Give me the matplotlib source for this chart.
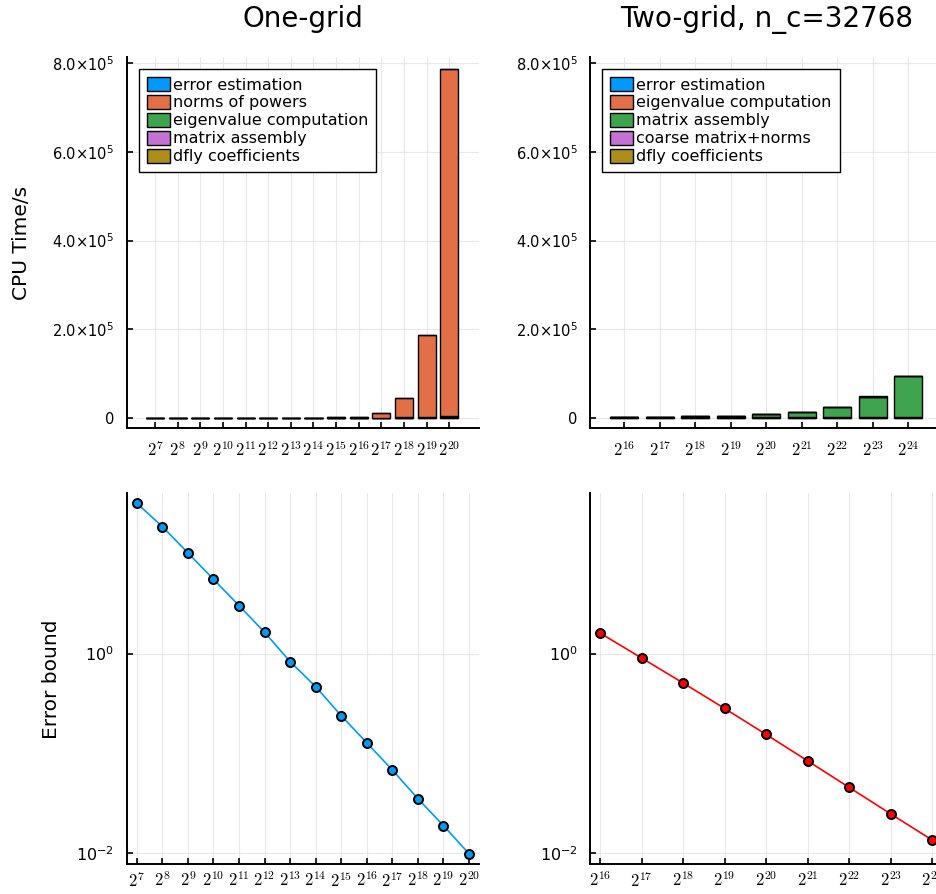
import numpy as np
import matplotlib.pyplot as plt

# problem sizes
n_one = [2**k for k in range(7, 21)]
n_two = [2**k for k in range(16, 25)]
lbl_one = [r'$2^{%d}$' % k for k in range(7, 21)]
lbl_two = [r'$2^{%d}$' % k for k in range(16, 25)]

# CPU time components, one-grid (seconds)
err_one = [0.002, 0.004, 0.008, 0.016, 0.03, 0.07, 0.14, 0.3, 0.6, 1.3, 2.8, 6, 13, 28]
norms_one = [0.01, 0.04, 0.15, 0.6, 2.4, 9.5, 38, 150, 600, 2400, 9800, 45000, 186000, 783000]
eig_one = [0.05, 0.1, 0.2, 0.45, 1, 2.2, 5, 11, 25, 60, 140, 330, 780, 2400]
asm_one = [0.02, 0.04, 0.08, 0.17, 0.35, 0.8, 1.7, 3.8, 9, 25, 70, 190, 520, 1900]
dfly_one = [0.5, 0.6, 0.7, 0.9, 1.2, 1.8, 3, 5, 9, 17, 33, 65, 130, 260]

# CPU time components, two-grid (seconds)
err_two = [5, 10, 20, 40, 80, 160, 320, 640, 1300]
eig_two = [40, 45, 50, 60, 70, 85, 100, 120, 150]
asm_two = [360, 720, 1450, 2900, 5800, 11500, 23000, 46000, 92000]
coarse_two = [1500, 1500, 1500, 1500, 1500, 1500, 1500, 1500, 1500]
dfly_two = [30, 35, 40, 50, 60, 75, 90, 110, 140]

# error bounds
bound_one = [32.5, 18.9, 10.3, 5.59, 3.04, 1.64, 0.831, 0.466, 0.238, 0.127,
             0.0678, 0.0349, 0.0187, 0.00977]
bound_two = [1.61, 0.904, 0.507, 0.281, 0.154, 0.0836, 0.0452, 0.0245, 0.01337]

pal = ['#009AFA', '#E36F47', '#3EA44E', '#C371D2', '#AC8E18']

W, H = 937, 894
fig = plt.figure(figsize=(W / 100, H / 100), dpi=100)


def add_ax(x0, x1, y0, y1):
    return fig.add_axes([x0 / W, 1 - y1 / H, (x1 - x0) / W, (y1 - y0) / H])


def style(ax, xpad=9):
    for s in ['top', 'right']:
        ax.spines[s].set_visible(False)
    for s in ['left', 'bottom']:
        ax.spines[s].set_linewidth(1.4)
    ax.tick_params(direction='in', length=4.5, width=1.2)
    ax.tick_params(axis='y', pad=9)
    ax.tick_params(axis='x', pad=xpad)
    ax.grid(True, color='#e8e8e8', lw=0.8)
    ax.set_axisbelow(True)


def stacked(ax, parts, labels, colors):
    x = np.arange(len(parts[0]))
    bottom = np.zeros(len(x))
    handles = {}
    # last series at the bottom of the stack
    for vals, lab, col in list(zip(parts, labels, colors))[::-1]:
        h = ax.bar(x, vals, 0.8, bottom=bottom, color=col, edgecolor='black',
                   linewidth=1.0, label=lab)
        handles[lab] = h
        bottom = bottom + np.array(vals)
    leg = ax.legend([handles[l] for l in labels], labels, loc='upper left',
                    fontsize=11.5, labelspacing=0.16, handlelength=1.45,
                    handleheight=0.95, handletextpad=0.2, borderpad=0.5,
                    borderaxespad=0.75, fancybox=False, framealpha=1)
    leg.get_frame().set_edgecolor('black')
    leg.get_frame().set_linewidth(1.0)
    return x


ytk = [0, 2e5, 4e5, 6e5, 8e5]
ytl = ['0', r'$2.0{\times}10^{5}$', r'$4.0{\times}10^{5}$', r'$6.0{\times}10^{5}$', r'$8.0{\times}10^{5}$']

# top left
ax1 = add_ax(126.7, 479, 57.2, 428.3)
style(ax1)
x = stacked(ax1, [err_one, norms_one, eig_one, asm_one, dfly_one],
            ['error estimation', 'norms of powers', 'eigenvalue computation',
             'matrix assembly', 'dfly coefficients'], pal)
ax1.set_xlim(-1.25, 13 + 1.31)
ax1.set_ylim(-0.239e5, 8.14e5)
ax1.set_xticks(x, lbl_one, math_fontfamily='cm', fontsize=12)
ax1.set_yticks(ytk, ytl, math_fontfamily='dejavusans', fontsize=10.5)
ax1.set_title('One-grid', fontsize=20, pad=22)

# top right
ax2 = add_ax(590, 942.3, 57.2, 428.3)
style(ax2)
x = stacked(ax2, [err_two, eig_two, asm_two, coarse_two, dfly_two],
            ['error estimation', 'eigenvalue computation', 'matrix assembly',
             'coarse matrix+norms', 'dfly coefficients'], pal)
ax2.set_xlim(-0.966, 8.958)
ax2.set_ylim(-0.239e5, 8.14e5)
ax2.set_xticks(x, lbl_two, math_fontfamily='cm', fontsize=12)
ax2.set_yticks(ytk, ytl, math_fontfamily='dejavusans', fontsize=10.5)
ax2.set_title('Two-grid, n_c=32768', fontsize=20, pad=22)

# bottom panels
ylo, yhi = 10**-2.1165, 10**1.61
for pos, n, b, col, ks, lbl in [((126.7, 479), n_one, bound_one, pal[0], range(7, 21), lbl_one),
                                ((590, 942.3), n_two, bound_two, 'red', range(16, 25), lbl_two)]:
    ax = add_ax(pos[0], pos[1], 493.3, 864.3)
    style(ax, xpad=5)
    ax.set_xscale('log', base=2)
    ax.set_yscale('log')
    ax.plot(n, b, '-o', color=col, lw=1.2, ms=6.5, mfc=col, mec='black', mew=1.4)
    span = ks[-1] - ks[0]
    ax.set_xlim(2**(ks[0] - 0.03 * span), 2**(ks[-1] + 0.03 * span))
    ax.set_ylim(ylo, yhi)
    ax.set_xticks(n, lbl, math_fontfamily='cm', fontsize=12)
    ax.set_yticks([1e-2, 1], [r'$10^{-2}$', r'$10^{0}$'],
                  math_fontfamily='dejavusans', fontsize=11.5)
    ax.minorticks_off()

fig.text(22 / W, 1 - 243 / H, 'CPU Time/s', rotation=90, ha='center', va='center', fontsize=14.5)
fig.text(52 / W, 1 - 679 / H, 'Error bound', rotation=90, ha='center', va='center', fontsize=14.5)

fig.savefig('out.png', dpi=100)
